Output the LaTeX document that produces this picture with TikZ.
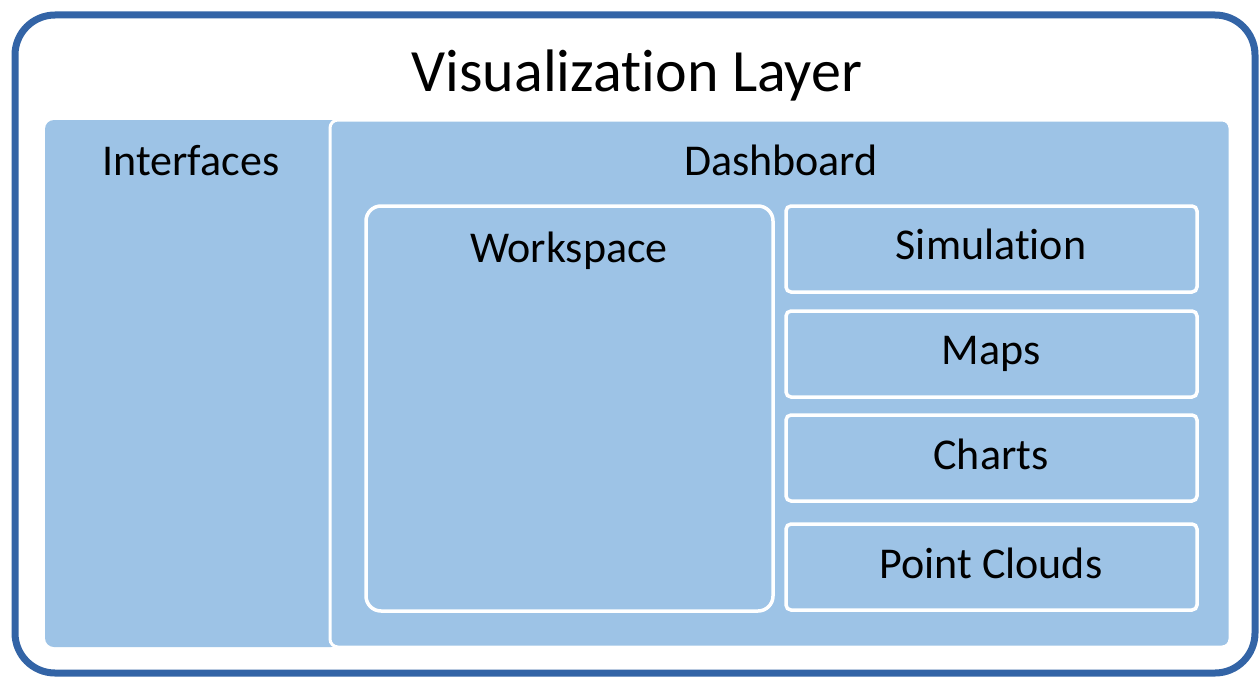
\documentclass[tikz,border=0pt]{standalone}
\usepackage{fontspec}
\setmainfont[Ligatures=NoCommon]{Carlito}
\definecolor{frameblue}{HTML}{3364A6}
\definecolor{boxblue}{HTML}{9DC3E6}
\begin{document}
\begin{tikzpicture}[x=1pt,y=-1pt,
  panel/.style={fill=boxblue,draw=white,line width=3pt,rounded corners=8pt},
  inner/.style={fill=boxblue,draw=white,line width=3.5pt},
  lbl/.style={font=\fontsize{44}{50}\selectfont,text=black,inner sep=0pt,anchor=base}]
\useasboundingbox (0,0) rectangle (1260,677);
\draw[frameblue,line width=7pt,fill=white,rounded corners=40pt] (15,15) rectangle (1255,673);
\node[lbl,font=\fontsize{60}{68}\selectfont] (title) at (637,92) {Visualization Layer};
\draw[fill=boxblue,draw=none,rounded corners=9pt] (45,120) rectangle (340,647);
\node[lbl] (intf) at (191,175) {Interfaces};
\path[panel] (330,120) rectangle (1230,647);
\node[lbl] (dash) at (781,175) {Dashboard};
\draw[inner,rounded corners=15pt] (366,206) rectangle (773,611);
\node[lbl] (ws) at (569,262) {Workspace};
\draw[inner,rounded corners=5pt] (786,206) rectangle (1197,292);
\node[lbl] (sim) at (991,259) {Simulation};
\draw[inner,rounded corners=5pt] (786,311) rectangle (1197,397);
\node[lbl] (maps) at (991,364) {Maps};
\draw[inner,rounded corners=5pt] (786,415) rectangle (1197,501);
\node[lbl] (charts) at (991,469) {Charts};
\draw[inner,rounded corners=5pt] (786,524) rectangle (1197,610);
\node[lbl] (pc) at (991,578) {Point Clouds};
\end{tikzpicture}
\end{document}
